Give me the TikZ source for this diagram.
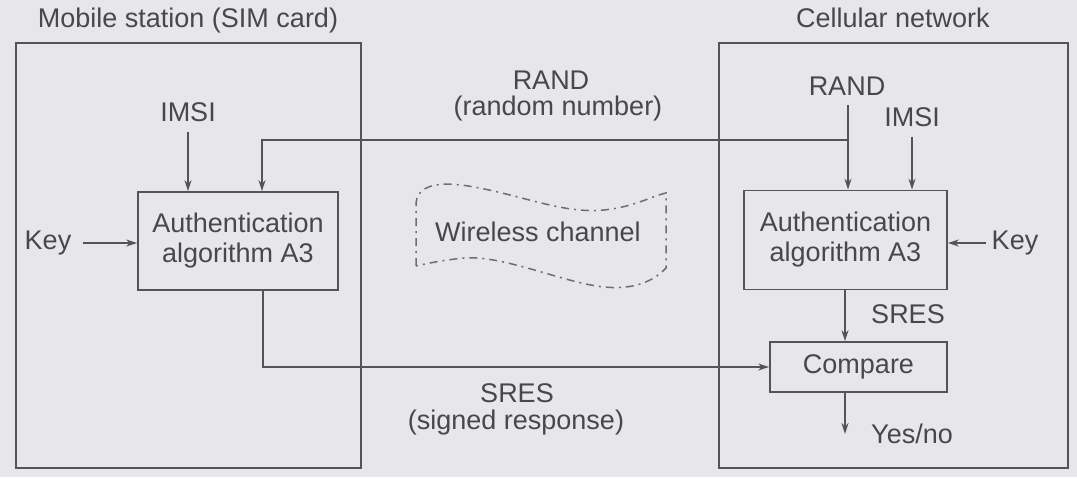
\documentclass[tikz,border=0pt]{standalone}
\usepackage{fontspec}
\setmainfont{Liberation Sans}
\usetikzlibrary{arrows.meta}
\definecolor{paper}{RGB}{231,231,234}
\definecolor{ink}{RGB}{84,84,88}
\definecolor{inktext}{RGB}{72,72,76}
\begin{document}
\begin{tikzpicture}[x=1pt,y=-1pt,
  font=\fontsize{27}{31}\selectfont,
  line/.style={draw=ink, line width=1.8pt},
  arr/.style={line, -{Stealth[length=11pt,width=7pt]}},
  frame/.style={line, rectangle, inner sep=0pt, anchor=north west},
  block/.style={line, rectangle, inner sep=0pt, align=center, text=inktext},
  lbl/.style={inner sep=0pt, outer sep=0pt, align=center, text=inktext},
  cloud/.style={draw=ink!85, line width=1.5pt, dash pattern=on 8pt off 5pt on 2pt off 5pt}]
\fill[paper] (0,0) rectangle (1077,477);
\useasboundingbox (0,0) rectangle (1077,477);

% the two sides
\node[frame, minimum width=345pt, minimum height=425pt] (ms) at (15,42) {};
\node[frame, minimum width=349pt, minimum height=425pt] (net) at (718,42) {};
\node[lbl] (msTitle) at (188,21) {Mobile station (SIM card)};
\node[lbl] (netTitle) at (893,18) {Cellular network};

% processing blocks
\node[block, minimum width=200pt, minimum height=98pt] (authL) at (238,241)
  {Authentication\\[-1pt]algorithm A3};
\node[block, minimum width=203pt, minimum height=99pt] (authR) at (845.5,240)
  {Authentication\\[-1pt]algorithm A3};
\node[block, minimum width=177pt, minimum height=50pt] (cmp) at (858.5,367) {Compare};

% input labels
\node[lbl] (imsiL) at (188,112) {IMSI};
\node[lbl] (keyL) at (48,243) {Key};
\node[lbl] (randR) at (847,86) {RAND};
\node[lbl] (imsiR) at (912,117) {IMSI};
\node[lbl] (keyR) at (1015,243) {Key};
\node[lbl] (sresR) at (908,314) {SRES};
\node[lbl] (yesno) at (912,434) {Yes/no};

% channel labels
\node[lbl] (randM) at (551,80) {RAND};
\node[lbl] (randNote) at (558,109) {(random number)};
\node[lbl] (sresM) at (517,393) {SRES};
\node[lbl] (sresNote) at (516,423) {(signed response)};
\node[lbl] (wire) at (538,232) {Wireless channel};

% wireless channel outline
\draw[cloud] (416,266) -- (416,205)
  .. controls (416,186) and (436,180) .. (474,187)
  .. controls (524,196) and (564,214) .. (604,210)
  .. controls (634,207) and (652,196) .. (666,193)
  -- (666,268)
  .. controls (654,281) and (634,290) .. (604,287)
  .. controls (564,283) and (504,255) .. (464,258)
  .. controls (444,260) and (429,263) .. (416,266) -- cycle;

% mobile station inputs
\draw[arr] ([yshift=-10pt]imsiL.south) -- (imsiL.south |- authL.north);
\draw[arr] ([xshift=12pt]keyL.east) -- (authL.west |- keyL.east);

% RAND from network to both algorithms
\coordinate (rj) at (848,140);
\draw[arr] ([xshift=1pt,yshift=-10pt]randR.south) -- ([xshift=1pt]randR.south |- authR.north);
\draw[arr] (rj) -| ([xshift=24pt]authL.north);

% network inputs
\draw[arr] ([yshift=-10pt]imsiR.south) -- (imsiR.south |- authR.north);
\draw[arr] ([xshift=-6pt]keyR.west) -- (authR.east |- keyR.west);

% responses
\draw[arr] ([xshift=-0.5pt]authR.south) -- ([xshift=-0.5pt]authR.south |- cmp.north);
\draw[arr] ([xshift=25pt]authL.south) |- (cmp.west);
\coordinate (ynEnd) at (845,434);
\draw[arr] (ynEnd |- cmp.south) -- (ynEnd);
\end{tikzpicture}
\end{document}
